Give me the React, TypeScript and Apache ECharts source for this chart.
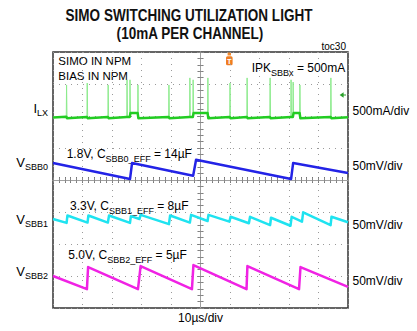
import React, { useEffect, useRef } from "react";
import * as echarts from "echarts";

const FONT = '"Liberation Sans", Arial, Helvetica, sans-serif';

// Horizontal: time in µs relative to the screen centre (10 µs/div).
// Vertical: scope divisions relative to the centre graticule line.
const X_MIN = -50;
const X_MAX = 50;
const X_DIV = 10;
const Y_MIN = -4;
const Y_MAX = 4;
const Y_DIV = 1;

// I_LX (inductor current) — spike times, spike peaks and baseline levels (div)
const ILX_SPIKE_T = [-45.4, -38.4, -31.3, -24.9, -23.9, -21.2, -10.7, -3.6, -2.5, 2.5, 10.0, 15.8, 23.6, 30.7, 31.4, 33.7, 44.2];
const ILX_SPIKE_PEAK = [2.97, 3.03, 2.97, 3.13, 3.13, 2.97, 2.97, 3.19, 3.13, 3.19, 3.03, 3.19, 3.19, 3.13, 3.06, 2.97, 3.19];
const ILX_LEVEL_BEFORE = [1.98, 1.97, 1.97, 1.97, 1.97, 2.09, 1.97, 1.97, 1.97, 2.09, 1.97, 1.97, 1.97, 1.97, 1.97, 2.09, 1.97];
const ILX_LEVEL_AFTER = [1.93, 1.93, 1.93, 1.97, 2.09, 1.93, 1.93, 1.97, 2.09, 1.93, 1.93, 1.93, 1.93, 1.97, 2.09, 1.93, 1.93];
const ILX_START = 1.95;
const ILX_END = 1.96;

// V_SBB0 (blue)
const VSBB0_T = [-50, -23.9, -23.2, -2.5, -1.5, 30.7, 31.4, 50];
const VSBB0_V = [0.53, 0.03, 0.53, 0.13, 0.63, 0.03, 0.53, 0.22];

// V_SBB1 (cyan)
const VSBB1_T = [-50, -45.4, -45.1, -38.3, -38.0, -31.4, -31.0, -23.9, -23.6, -20.7, -20.3, -10.7, -10.3, -3.6, -3.2, 2.4, 2.7, 9.8, 10.2, 16.4, 16.8, 23.6, 23.9, 30.5, 30.9, 34.4, 34.8, 44.1, 44.4, 50];
const VSBB1_V = [-1.22, -1.34, -1.11, -1.33, -1.11, -1.33, -1.11, -1.34, -1.13, -1.22, -1.09, -1.38, -1.11, -1.33, -1.09, -1.28, -1.09, -1.3, -1.15, -1.35, -1.15, -1.41, -1.18, -1.43, -1.15, -1.3, -1.01, -1.41, -1.15, -1.32];

// V_SBB2 (magenta)
const VSBB2_T = [-50, -38.5, -38.1, -21.2, -20.3, -2.9, -2.4, 15.6, 15.9, 33.4, 33.9, 50];
const VSBB2_V = [-3.0, -3.41, -2.72, -3.41, -2.69, -3.41, -2.66, -3.41, -2.69, -3.41, -2.72, -3.34];

// Texts
const TITLE_LINES = ["SIMO SWITCHING UTILIZATION LIGHT", "(10mA PER CHANNEL)"];
const FIG_ID = "toc30";
const CHANNEL_NAMES: [string, string][] = [["I", "LX"], ["V", "SBB0"], ["V", "SBB1"], ["V", "SBB2"]];
const SCALE_LABELS = ["500mA/div", "50mV/div", "50mV/div", "50mV/div"];
const MODE_LINES = ["SIMO IN NPM", "BIAS IN NPM"];
const IPK_TEXT: [string, string, string] = ["IPK", "SBBx", " = 500mA"];
const CAP_TEXTS: [string, string, string][] = [
  ["1.8V, C", "SBB0_EFF", " = 14µF"],
  ["3.3V, C", "SBB1_EFF", " = 8µF"],
  ["5.0V, C", "SBB2_EFF", " = 5µF"],
];
const TIME_LABEL = "10µs/div";

const zip = (t: number[], v: number[]) => t.map((x, i) => [x, v[i]]);

export default function App() {
  const ref = useRef<HTMLDivElement>(null);
  useEffect(() => {
    if (!ref.current) return;
    const chart = echarts.init(ref.current, null, { renderer: "svg" });

    const ilxBase: any[] = [[X_MIN, ILX_START]];
    const ilxSpikes: any[] = [];
    ILX_SPIKE_T.forEach((t, i) => {
      ilxBase.push([t - 0.1, ILX_LEVEL_BEFORE[i]]);
      ilxBase.push([t + 0.15, ILX_LEVEL_AFTER[i]]);
      ilxSpikes.push([t - 0.1, ILX_LEVEL_BEFORE[i]], [t, ILX_SPIKE_PEAK[i]], [t + 0.15, ILX_LEVEL_AFTER[i]], [t, "-"]);
    });
    ilxBase.push([X_MAX, ILX_END]);

    const tickColor = "#777";
    const mkX = (extra: any) => ({
      type: "value",
      min: X_MIN,
      max: X_MAX,
      interval: X_DIV,
      axisLabel: { show: false },
      splitLine: { show: false },
      axisLine: { show: false },
      axisTick: { show: true, inside: true, length: 3, lineStyle: { color: tickColor } },
      minorTick: { show: true, splitNumber: 5, length: 3, lineStyle: { color: tickColor } },
      ...extra,
    });
    const mkY = (extra: any) => ({
      type: "value",
      min: Y_MIN,
      max: Y_MAX,
      interval: Y_DIV,
      axisLabel: { show: false },
      splitLine: { show: false },
      axisLine: { show: false },
      axisTick: { show: true, inside: true, length: 3, lineStyle: { color: tickColor } },
      minorTick: { show: true, splitNumber: 5, length: 3, lineStyle: { color: tickColor } },
      ...extra,
    });
    const dotted = { show: true, lineStyle: { color: "#9a9a9a", width: 1, type: [1, 5] } };
    const centreLine = { show: true, onZero: true, lineStyle: { color: "#a0a0a0", width: 1 } };

    const sub = { fontSize: 9, fontFamily: FONT, fill: "#000", padding: [10, 0, 0, 0], lineHeight: 9 };
    const richText = (x: number, y: number, parts: string[], align: string, mainSize: number) => ({
      type: "text",
      x,
      y,
      silent: true,
      style: {
        text: parts.map((p, i) => (i % 2 === 1 ? `{s|${p}}` : `{m|${p}}`)).join(""),
        rich: { m: { fontSize: mainSize, fontFamily: FONT, fill: "#000" }, s: sub },
        align,
        verticalAlign: "middle",
        fontFamily: FONT,
      },
    });
    const plain = (x: number, y: number, text: string, size: number, align = "left", extra: any = {}) => ({
      type: "text",
      x,
      y,
      silent: true,
      ...extra,
      style: { text, fontSize: size, fontFamily: FONT, fill: "#000", align, verticalAlign: "middle", ...(extra.style || {}) },
    });

    const leftY = [108, 162, 219, 271];
    const rightY = [111, 165.5, 224.5, 280.5];
    const capY = [153.8, 206.2, 254.7];
    const capX = [66.7, 70, 68.3];

    const graphic: any[] = [
      { ...plain(189, 14.5, TITLE_LINES[0], 16.5, "center"), scaleX: 0.82, style: { text: TITLE_LINES[0], fontSize: 16.5, fontWeight: "bold", fontFamily: FONT, fill: "#111", align: "center", verticalAlign: "middle" } },
      { ...plain(190, 32.5, TITLE_LINES[1], 16.5, "center"), scaleX: 0.82, style: { text: TITLE_LINES[1], fontSize: 16.5, fontWeight: "bold", fontFamily: FONT, fill: "#111", align: "center", verticalAlign: "middle" } },
      plain(346, 46.5, FIG_ID, 10, "right"),
      plain(58.3, 61.3, MODE_LINES[0], 11.5),
      plain(58.3, 75.5, MODE_LINES[1], 11.5),
      richText(251.7, 67.7, IPK_TEXT, "left", 12),
      plain(200.5, 318, TIME_LABEL, 12, "center"),
      ...CHANNEL_NAMES.map((n, i) => richText(48, leftY[i], n, "right", 13)),
      ...SCALE_LABELS.map((s, i) => plain(352.5, rightY[i], s, 12)),
      ...CAP_TEXTS.map((c, i) => richText(capX[i], capY[i], c, "left", 12)),
      // trigger marker
      { type: "rect", silent: true, shape: { x: 227.6, y: 52.5, width: 3.4, height: 3 }, style: { fill: "#f28a2e" } },
      { type: "rect", silent: true, shape: { x: 226, y: 56.3, width: 6.6, height: 9, r: 1.5 }, style: { fill: "#f07d22" } },
      { type: "text", silent: true, x: 229.3, y: 61, style: { text: "T", fontSize: 7.5, fontWeight: "bold", fontFamily: FONT, fill: "#fff", align: "center", verticalAlign: "middle" } },
      // I_LX reference marker
      { type: "polygon", silent: true, shape: { points: [[339.6, 95], [343.6, 92.3], [343.6, 97.7]] }, style: { fill: "#2aa02a" } },
      { type: "line", silent: true, shape: { x1: 343, y1: 95, x2: 346, y2: 95 }, style: { stroke: "#2aa02a", lineWidth: 1 } },
    ];

    const lineSeries = (data: any[], color: string, width: number) => ({
      type: "line",
      data,
      xAxisIndex: 0,
      yAxisIndex: 0,
      showSymbol: false,
      symbol: "none",
      silent: true,
      connectNulls: false,
      lineStyle: { color, width, join: "round" },
      itemStyle: { color },
    });

    chart.setOption({
      animation: false,
      grid: { left: 53, top: 52, width: 295, height: 256, show: true, borderColor: "#333", borderWidth: 1.5, backgroundColor: "#fff" },
      xAxis: [
        mkX({ position: "bottom", splitLine: dotted }),
        mkX({ position: "top" }),
        mkX({ position: "bottom", axisLine: centreLine, axisTick: { show: true, inside: true, length: 2, lineStyle: { color: "#888" } }, minorTick: { show: true, splitNumber: 5, length: 2, lineStyle: { color: "#888" } } }),
        mkX({ position: "bottom", axisLine: centreLine, axisTick: { show: true, inside: false, length: 2, lineStyle: { color: "#888" } }, minorTick: { show: true, splitNumber: 5, length: 2, lineStyle: { color: "#888" } } }),
      ],
      yAxis: [
        mkY({ position: "left", splitLine: dotted }),
        mkY({ position: "right" }),
        mkY({ position: "left", axisLine: centreLine, axisTick: { show: true, inside: true, length: 2, lineStyle: { color: "#888" } }, minorTick: { show: true, splitNumber: 5, length: 2, lineStyle: { color: "#888" } } }),
        mkY({ position: "left", axisLine: centreLine, axisTick: { show: true, inside: false, length: 2, lineStyle: { color: "#888" } }, minorTick: { show: true, splitNumber: 5, length: 2, lineStyle: { color: "#888" } } }),
      ],
      series: [
        lineSeries(ilxSpikes, "#8ceb8c", 1),
        lineSeries(ilxBase, "#22cc22", 2.5),
        lineSeries(zip(VSBB0_T, VSBB0_V), "#2323e6", 2.5),
        lineSeries(zip(VSBB1_T, VSBB1_V), "#1fe3f0", 2.5),
        lineSeries(zip(VSBB2_T, VSBB2_V), "#f022e4", 2.5),
      ],
      graphic,
    });
    return () => chart.dispose();
  }, []);

  return <div ref={ref} style={{ position: "fixed", left: 0, top: 0, width: 417, height: 331, background: "#fff" }} />;
}
